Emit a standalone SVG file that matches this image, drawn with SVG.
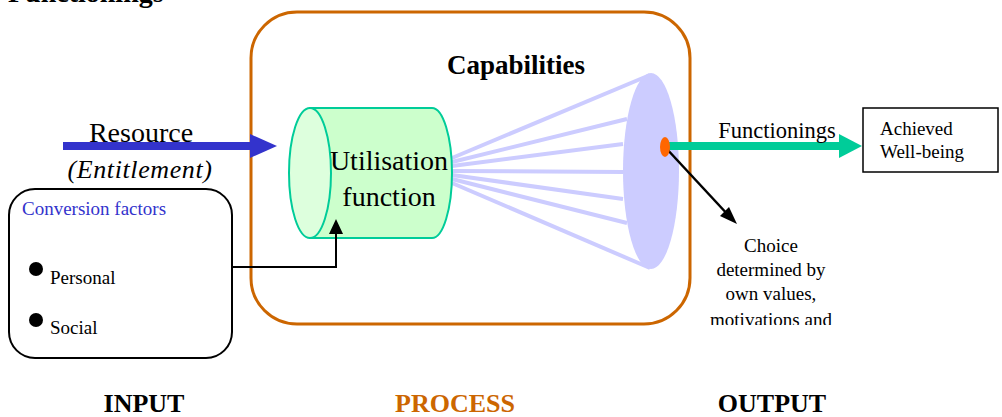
<svg xmlns="http://www.w3.org/2000/svg" width="1002" height="417" viewBox="0 0 1002 417">
<style>
text{font-family:"Liberation Serif","Times New Roman",serif;fill:#000}
.b{font-weight:bold}
.fan{stroke:#CCCCFF;stroke-width:4;fill:none}
</style>
<defs>
<clipPath id="clipChoice"><rect x="690" y="230" width="170" height="95"/></clipPath>
</defs>
<rect width="1002" height="417" fill="#fff"/>
<text class="b" x="8" y="2" font-size="28">Functionings</text>

<g id="process-box">
<rect x="251" y="12" width="439" height="312" rx="46" ry="46" fill="none" stroke="#CC6600" stroke-width="3"/>
<text class="b" x="516" y="74" font-size="27" text-anchor="middle">Capabilities</text>
</g>

<g id="fan">
<line class="fan" x1="452" y1="158" x2="650" y2="75"/>
<line class="fan" x1="452" y1="162" x2="627" y2="119"/>
<line class="fan" x1="452" y1="166" x2="623" y2="144"/>
<line class="fan" x1="452" y1="171" x2="623" y2="172"/>
<line class="fan" x1="452" y1="175" x2="623" y2="199"/>
<line class="fan" x1="452" y1="179" x2="627" y2="223"/>
<line class="fan" x1="452" y1="183" x2="650" y2="268"/>
</g>

<g id="capability-set">
<ellipse cx="651" cy="171" rx="28" ry="98" fill="#CCCCFF"/>
</g>

<g id="utilisation-function">
<path d="M310,108 L432,108 A20,65 0 0 1 432,238 L310,238 Z" fill="#CCFFCC" stroke="#00CC99" stroke-width="2"/>
<ellipse cx="310" cy="173" rx="21" ry="65" fill="#DDFFDD" stroke="#00CC99" stroke-width="2"/>
<text x="389" y="170" font-size="28" text-anchor="middle">Utilisation</text>
<text x="389" y="206" font-size="28" text-anchor="middle">function</text>
</g>

<g id="connectors">
<line x1="63" y1="146" x2="252" y2="146" stroke="#3333CC" stroke-width="8"/>
<path d="M250,134 L277,146 L250,158 Z" fill="#3333CC"/>
<line x1="665" y1="146" x2="842" y2="146" stroke="#00CC99" stroke-width="8"/>
<path d="M839,134 L862,146 L839,158 Z" fill="#00CC99"/>
<polyline points="232,267 336,267 336,232" fill="none" stroke="#000" stroke-width="2"/>
<path d="M329,234 L336,219 L343,234 Z" fill="#000"/>
<line x1="665" y1="147" x2="730" y2="217" stroke="#000" stroke-width="2.5"/>
<path d="M737,224 L720,216 L729,207 Z" fill="#000"/>
</g>

<g id="choice-point">
<ellipse cx="665" cy="147" rx="5" ry="10" fill="#FF6600"/>
</g>

<g id="resource-label">
<text x="141" y="142" font-size="28" text-anchor="middle">Resource</text>
<text x="140" y="178" font-size="26" font-style="italic" text-anchor="middle" letter-spacing="0.6">(Entitlement)</text>
</g>

<g id="functionings-label">
<text x="777" y="138" font-size="22.5" text-anchor="middle">Functionings</text>
</g>

<g id="achieved-wellbeing">
<rect x="863" y="108" width="135" height="64" fill="#fff" stroke="#000" stroke-width="1.5"/>
<text x="880" y="135" font-size="19">Achieved</text>
<text x="880" y="158" font-size="19">Well-being</text>
</g>

<g id="choice-label" clip-path="url(#clipChoice)">
<text x="771" y="252" font-size="19" text-anchor="middle">Choice</text>
<text x="771" y="276" font-size="19" text-anchor="middle">determined by</text>
<text x="771" y="300" font-size="19" text-anchor="middle">own values,</text>
<text x="771" y="326" font-size="19" text-anchor="middle">motivations and</text>
</g>

<g id="conversion-factors">
<rect x="9" y="189" width="223" height="169" rx="26" ry="26" fill="#fff" stroke="#000" stroke-width="2"/>
<text x="22" y="215" font-size="19" style="fill:#3333CC">Conversion factors</text>
<circle cx="36" cy="269" r="7" fill="#000"/>
<text x="50" y="284" font-size="19">Personal</text>
<circle cx="36" cy="320" r="7" fill="#000"/>
<text x="50" y="334" font-size="19">Social</text>
</g>

<g id="stage-labels">
<text class="b" x="144" y="412" font-size="26" text-anchor="middle">INPUT</text>
<text class="b" x="455" y="412" font-size="26" text-anchor="middle" style="fill:#CC6600">PROCESS</text>
<text class="b" x="772" y="412" font-size="26" text-anchor="middle">OUTPUT</text>
</g>
</svg>
